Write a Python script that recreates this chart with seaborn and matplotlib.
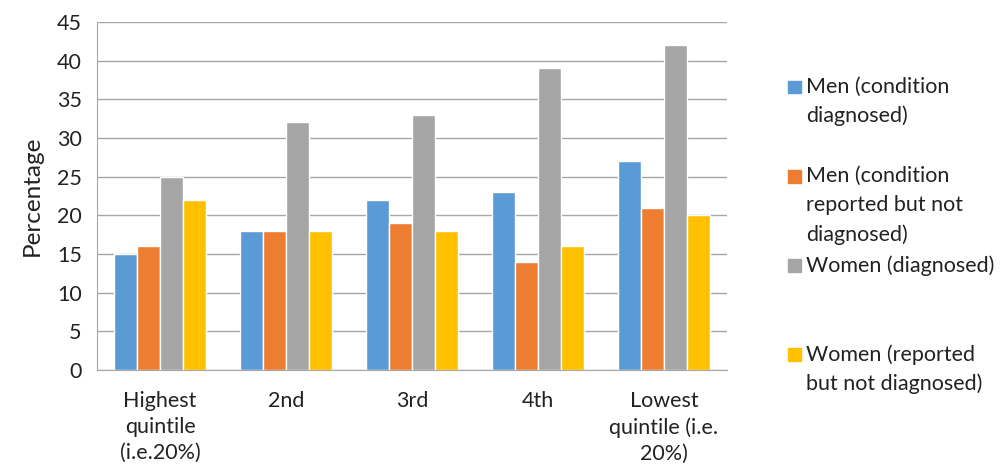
import pandas as pd
import numpy as np
import matplotlib
matplotlib.use("Agg")
import matplotlib.pyplot as plt
import seaborn as sns
from matplotlib.patches import Rectangle

# Data
quintiles = ["Highest\nquintile\n(i.e.20%)", "2nd", "3rd", "4th", "Lowest\nquintile (i.e.\n20%)"]
series = ["Men (condition\ndiagnosed)",
          "Men (condition\nreported but not\ndiagnosed)",
          "Women (diagnosed)",
          "Women (reported\nbut not diagnosed)"]
men_diag = [15, 18, 22, 23, 27]
men_rep = [16, 18, 19, 14, 21]
women_diag = [25, 32, 33, 39, 42]
women_rep = [22, 18, 18, 16, 20]
colors = ["#5B9BD5", "#ED7D31", "#A5A5A5", "#FFC000"]

rows = []
for s, vals in zip(series, [men_diag, men_rep, women_diag, women_rep]):
    for q, v in zip(quintiles, vals):
        rows.append({"Quintile": q, "Series": s, "Percentage": v})
df = pd.DataFrame(rows)

sns.set_style("white")
plt.rcParams['font.family'] = ['Lato', 'DejaVu Sans']

fig = plt.figure(figsize=(10, 4.67), dpi=100)
ax = fig.add_axes([0.097, 0.2077, 0.630, 0.7453])

sns.barplot(data=df, x="Quintile", y="Percentage", hue="Series",
            palette=colors, width=0.73, saturation=1, ax=ax, legend=False)

ax.set_ylim(0, 45)
ax.set_xlim(-0.5, 4.5)
ax.set_yticks(range(0, 50, 5))
ax.yaxis.grid(True, color="#A6A6A6", linewidth=1)
ax.set_axisbelow(True)
for side in ["top", "right"]:
    ax.spines[side].set_visible(False)
ax.spines["left"].set_color("#A6A6A6")
ax.spines["bottom"].set_color("#A6A6A6")

ax.tick_params(axis="y", length=7, color="#A6A6A6", labelsize=15.5, pad=4, labelcolor="#222222")
ax.set_xticks(np.arange(-0.5, 5.0, 1.0), minor=True)
ax.tick_params(axis="x", which="minor", length=7, color="#A6A6A6")
ax.tick_params(axis="x", which="major", length=0, labelsize=15.5, pad=15, labelcolor="#222222")
for lbl in ax.get_xticklabels():
    lbl.set_linespacing(1.38)
ax.set_xlabel("")
ax.set_ylabel("Percentage", fontsize=17.5, labelpad=10, color="#222222")

# Legend laid out like the Excel one, each square next to the first line of its label
legend_tops = [0.836, 0.644, 0.454, 0.263]
for c, label, yt in zip(colors, series, legend_tops):
    fig.patches.append(Rectangle((0.788, yt - 0.036), 0.013, 0.027,
                                 transform=fig.transFigure, color=c))
    fig.text(0.806, yt, label, fontsize=15.5, va="top", ha="left",
             color="#222222", linespacing=1.55)

fig.savefig("out.png", dpi=100)
